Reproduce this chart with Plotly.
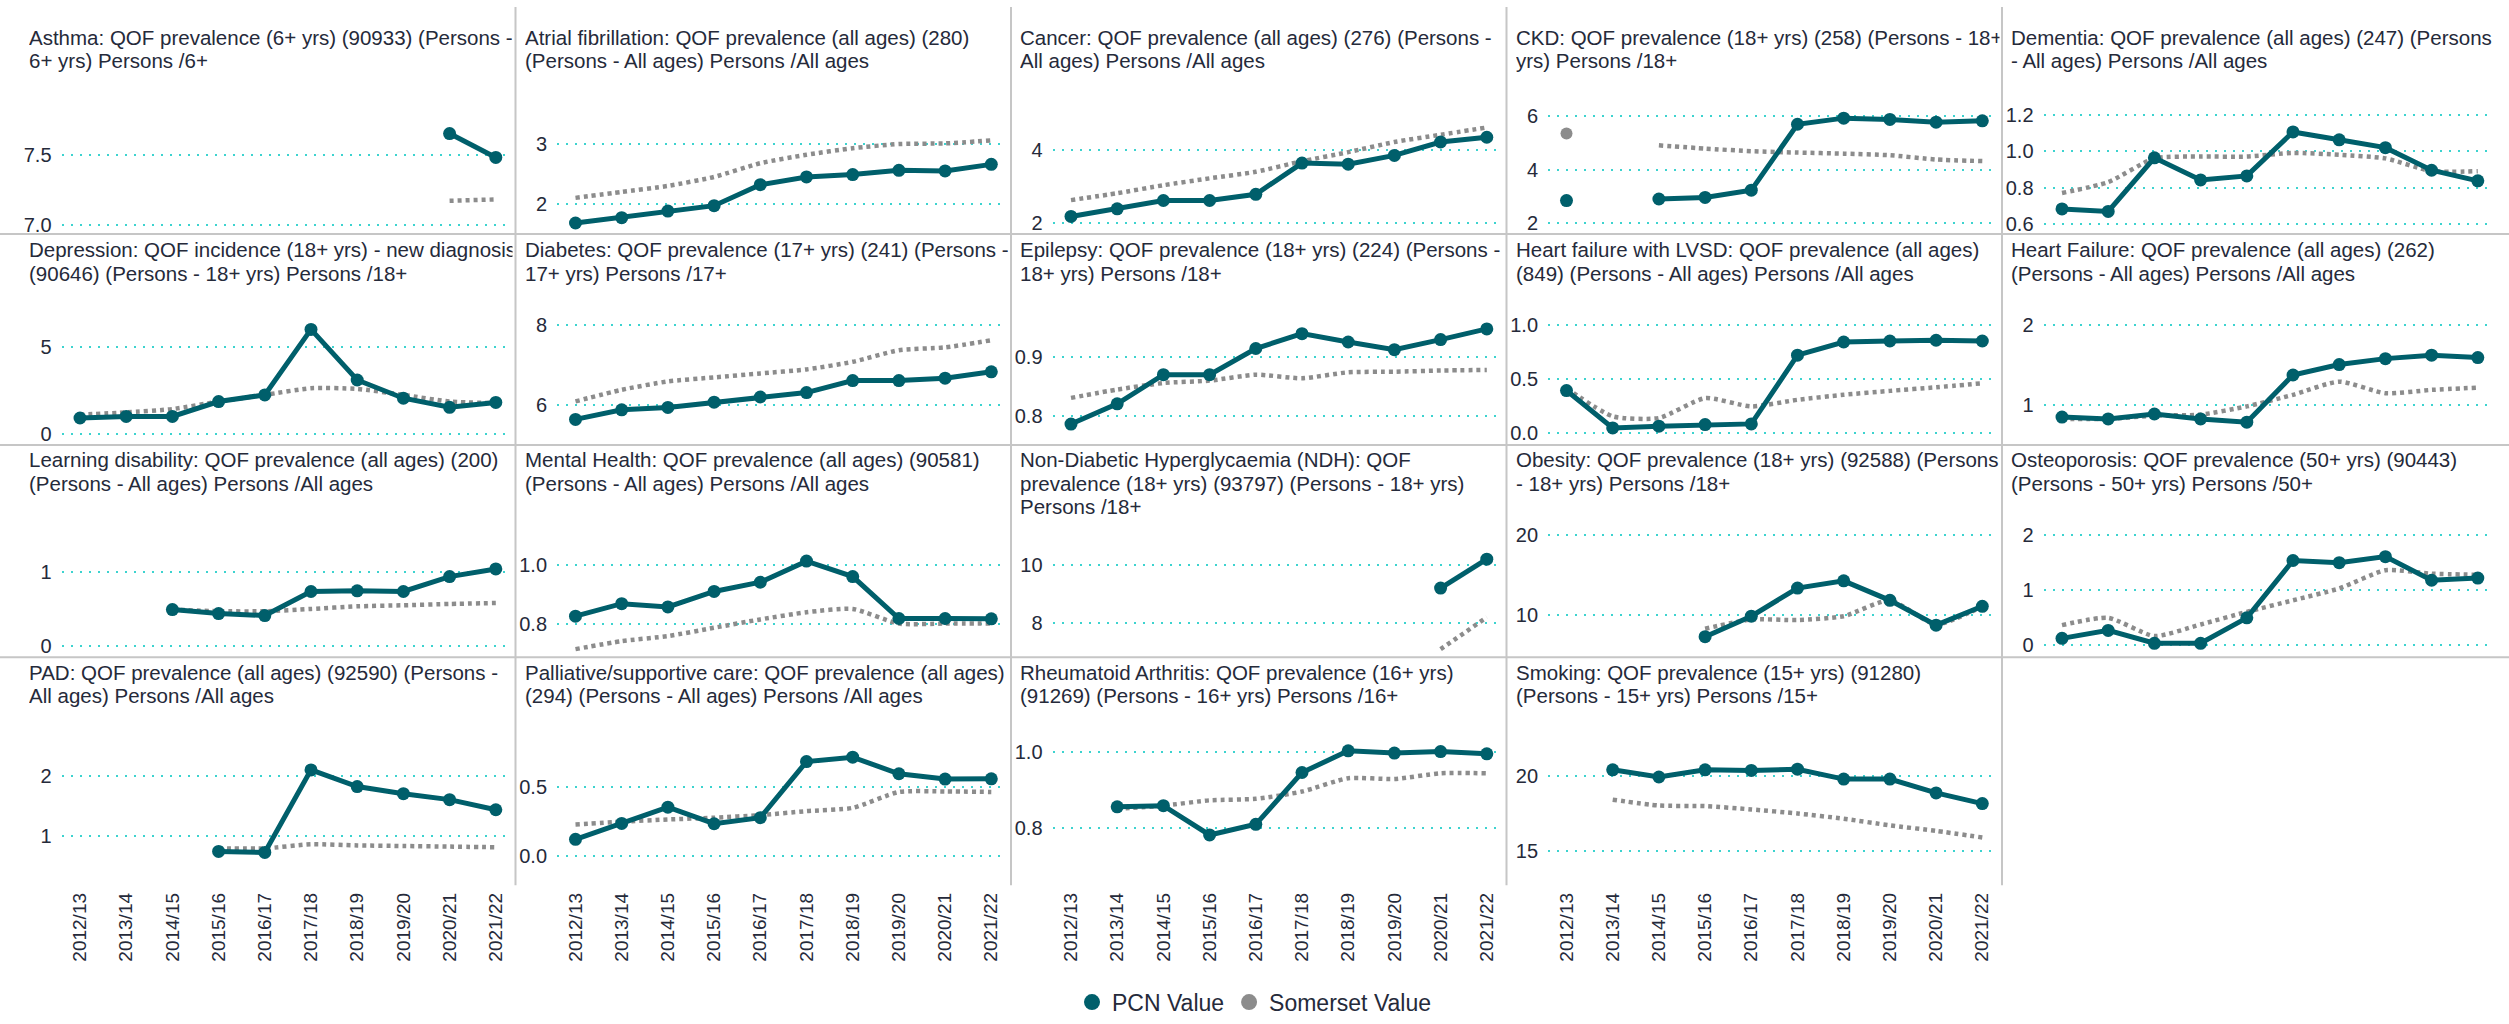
import plotly.graph_objects as go

# ---- data -------------------------------------------------------------
years = ["2012/13", "2013/14", "2014/15", "2015/16", "2016/17",
         "2017/18", "2018/19", "2019/20", "2020/21", "2021/22"]
N = None

asthma_pcn = [N, N, N, N, N, N, N, N, 7.65, 7.48]
asthma_som = [N, N, N, N, N, N, N, N, 7.17, 7.18]

af_pcn = [1.68, 1.77, 1.88, 1.97, 2.32, 2.45, 2.49, 2.56, 2.55, 2.66]
af_som = [2.10, 2.20, 2.30, 2.45, 2.68, 2.82, 2.93, 3.00, 3.01, 3.06]

cancer_pcn = [2.18, 2.39, 2.62, 2.62, 2.79, 3.65, 3.62, 3.86, 4.23, 4.36]
cancer_som = [2.63, 2.82, 3.04, 3.23, 3.41, 3.70, 3.95, 4.23, 4.43, 4.63]

ckd_pcn = [2.84, N, 2.90, 2.96, 3.23, 5.70, 5.93, 5.88, 5.78, 5.83]
ckd_som = [5.35, N, 4.91, 4.79, 4.69, 4.64, 4.60, 4.54, 4.38, 4.32]

dementia_pcn = [0.683, 0.669, 0.963, 0.842, 0.864, 1.105, 1.062, 1.019, 0.895, 0.837]
dementia_som = [0.77, 0.83, 0.96, 0.97, 0.97, 0.99, 0.98, 0.96, 0.89, 0.89]

depression_pcn = [0.94, 1.03, 1.03, 1.88, 2.26, 6.00, 3.11, 2.07, 1.55, 1.83]
depression_som = [1.13, 1.26, 1.45, 1.88, 2.26, 2.64, 2.60, 2.26, 1.88, 1.79]

diabetes_pcn = [5.65, 5.89, 5.95, 6.08, 6.21, 6.32, 6.62, 6.62, 6.68, 6.84]
diabetes_som = [6.10, 6.39, 6.60, 6.70, 6.80, 6.90, 7.09, 7.38, 7.45, 7.63]

epilepsy_pcn = [0.787, 0.821, 0.870, 0.870, 0.914, 0.939, 0.925, 0.912, 0.929, 0.947]
epilepsy_som = [0.831, 0.845, 0.856, 0.860, 0.870, 0.864, 0.874, 0.875, 0.877, 0.878]

hflvsd_pcn = [0.395, 0.051, 0.067, 0.082, 0.088, 0.721, 0.842, 0.851, 0.858, 0.851]
hflvsd_som = [0.416, 0.158, 0.142, 0.325, 0.249, 0.310, 0.356, 0.392, 0.425, 0.462]

hf_pcn = [0.846, 0.822, 0.884, 0.822, 0.781, 1.372, 1.503, 1.577, 1.620, 1.590]
hf_som = [0.822, 0.822, 0.864, 0.876, 0.979, 1.124, 1.289, 1.144, 1.186, 1.214]

ld_pcn = [N, N, 0.489, 0.436, 0.409, 0.733, 0.742, 0.733, 0.933, 1.036]
ld_som = [N, N, 0.489, 0.467, 0.467, 0.498, 0.533, 0.547, 0.565, 0.578]

mh_pcn = [0.828, 0.870, 0.859, 0.911, 0.942, 1.013, 0.961, 0.820, 0.820, 0.819]
mh_som = [0.717, 0.744, 0.761, 0.789, 0.817, 0.841, 0.852, 0.803, 0.803, 0.803]

ndh_pcn = [N, N, N, N, N, N, N, N, 9.21, 10.20]
ndh_som = [N, N, N, N, N, N, N, N, 7.12, 8.21]

obesity_pcn = [N, N, N, 7.32, 9.88, 13.40, 14.30, 11.86, 8.76, 11.12]
obesity_som = [N, N, N, 8.31, 9.47, 9.40, 9.88, 11.86, 8.85, 11.12]

osteo_pcn = [0.121, 0.266, 0.031, 0.031, 0.495, 1.54, 1.50, 1.61, 1.18, 1.22]
osteo_som = [0.362, 0.495, 0.163, 0.374, 0.604, 0.814, 1.03, 1.36, 1.30, 1.28]

pad_pcn = [N, N, N, 0.739, 0.722, 2.11, 1.83, 1.71, 1.61, 1.44]
pad_som = [N, N, N, 0.79, 0.79, 0.86, 0.84, 0.83, 0.82, 0.81]

pall_pcn = [0.120, 0.236, 0.355, 0.234, 0.278, 0.688, 0.720, 0.599, 0.560, 0.562]
pall_som = [0.229, 0.249, 0.265, 0.278, 0.297, 0.326, 0.350, 0.466, 0.470, 0.466]

ra_pcn = [N, 0.855, 0.858, 0.781, 0.809, 0.945, 1.002, 0.996, 1.000, 0.994]
ra_som = [N, 0.850, 0.858, 0.872, 0.876, 0.895, 0.930, 0.928, 0.943, 0.943]

smoking_pcn = [N, 20.44, 19.96, 20.44, 20.40, 20.48, 19.82, 19.82, 18.90, 18.19]
smoking_som = [N, 18.45, 18.06, 18.02, 17.80, 17.53, 17.18, 16.74, 16.37, 15.93]

titles = [
    ["Asthma: QOF prevalence (6+ yrs) (90933) (Persons -", "6+ yrs) Persons /6+"],
    ["Atrial fibrillation: QOF prevalence (all ages) (280)", "(Persons - All ages) Persons /All ages"],
    ["Cancer: QOF prevalence (all ages) (276) (Persons -", "All ages) Persons /All ages"],
    ["CKD: QOF prevalence (18+ yrs) (258) (Persons - 18+", "yrs) Persons /18+"],
    ["Dementia: QOF prevalence (all ages) (247) (Persons", "- All ages) Persons /All ages"],
    ["Depression: QOF incidence (18+ yrs) - new diagnosis", "(90646) (Persons - 18+ yrs) Persons /18+"],
    ["Diabetes: QOF prevalence (17+ yrs) (241) (Persons -", "17+ yrs) Persons /17+"],
    ["Epilepsy: QOF prevalence (18+ yrs) (224) (Persons -", "18+ yrs) Persons /18+"],
    ["Heart failure with LVSD: QOF prevalence (all ages)", "(849) (Persons - All ages) Persons /All ages"],
    ["Heart Failure: QOF prevalence (all ages) (262)", "(Persons - All ages) Persons /All ages"],
    ["Learning disability: QOF prevalence (all ages) (200)", "(Persons - All ages) Persons /All ages"],
    ["Mental Health: QOF prevalence (all ages) (90581)", "(Persons - All ages) Persons /All ages"],
    ["Non-Diabetic Hyperglycaemia (NDH): QOF", "prevalence (18+ yrs) (93797) (Persons - 18+ yrs)", "Persons /18+"],
    ["Obesity: QOF prevalence (18+ yrs) (92588) (Persons", "- 18+ yrs) Persons /18+"],
    ["Osteoporosis: QOF prevalence (50+ yrs) (90443)", "(Persons - 50+ yrs) Persons /50+"],
    ["PAD: QOF prevalence (all ages) (92590) (Persons -", "All ages) Persons /All ages"],
    ["Palliative/supportive care: QOF prevalence (all ages)", "(294) (Persons - All ages) Persons /All ages"],
    ["Rheumatoid Arthritis: QOF prevalence (16+ yrs)", "(91269) (Persons - 16+ yrs) Persons /16+"],
    ["Smoking: QOF prevalence (15+ yrs) (91280)", "(Persons - 15+ yrs) Persons /15+"],
]

pcn_series = [asthma_pcn, af_pcn, cancer_pcn, ckd_pcn, dementia_pcn,
              depression_pcn, diabetes_pcn, epilepsy_pcn, hflvsd_pcn, hf_pcn,
              ld_pcn, mh_pcn, ndh_pcn, obesity_pcn, osteo_pcn,
              pad_pcn, pall_pcn, ra_pcn, smoking_pcn]
som_series = [asthma_som, af_som, cancer_som, ckd_som, dementia_som,
              depression_som, diabetes_som, epilepsy_som, hflvsd_som, hf_som,
              ld_som, mh_som, ndh_som, obesity_som, osteo_som,
              pad_som, pall_som, ra_som, smoking_som]

y_ticks = [[7.0, 7.5], [2, 3], [2, 4], [2, 4, 6], [0.6, 0.8, 1.0, 1.2],
           [0, 5], [6, 8], [0.8, 0.9], [0.0, 0.5, 1.0], [1, 2],
           [0, 1], [0.8, 1.0], [8, 10], [10, 20], [0, 1, 2],
           [1, 2], [0.0, 0.5], [0.8, 1.0], [15, 20]]

# ---- layout settings ----------------------------------------------------
y_ranges = [(6.948, 8.0375), (1.531, 4.081), (1.754, 5.956), (1.666, 7.385), (0.5565, 1.394),
            (-0.493, 8.398), (5.058, 8.949), (0.755, 1.0167), (-0.0885, 1.344), (0.520, 2.468),
            (-0.111, 1.983), (0.700, 1.2233), (6.949, 12.271), (5.130, 24.585), (-0.168, 2.668),
            (0.222, 3.122), (-0.193, 1.067), (0.657, 1.110), (12.952, 24.445)]

W, H = 2509, 1024
FIRST_CAT = 80.0      # pixel x of first category in column 0
COL_STEP = 495.5      # pixel distance between columns
CAT_STEP = 46.2       # pixel distance between categories
X_RANGE = (-0.4, 9.35)
PLOT_ROWS = [(80, 234), (290, 447), (503, 660), (716, 890)]   # (top, bottom) px
TITLE_Y = [38, 252, 464, 678]
LINE_H = 23.5
SEP_X0 = 20.0

PCN_COLOR = "#005F6B"
SOM_COLOR = "#8C8C8C"
GRID_COLOR = "#3CD3CF"
TEXT_COLOR = "#252A3A"
FONT = "Liberation Sans, Arial, sans-serif"

fig = go.Figure()
cats = list(range(len(years)))


def isolated(vals):
    out = []
    for i, v in enumerate(vals):
        prev_none = i == 0 or vals[i - 1] is None
        next_none = i == len(vals) - 1 or vals[i + 1] is None
        out.append(v if (v is not None and prev_none and next_none) else None)
    return out


for k in range(20):
    r, c = divmod(k, 5)
    sfx = "" if k == 0 else str(k + 1)
    left = FIRST_CAT + COL_STEP * c + X_RANGE[0] * CAT_STEP
    right = FIRST_CAT + COL_STEP * c + X_RANGE[1] * CAT_STEP
    top, bottom = PLOT_ROWS[r]
    bottom_row = r == 3
    fig.layout["xaxis" + sfx] = dict(
        domain=[left / W, right / W], range=list(X_RANGE), anchor="y" + sfx,
        tickmode="array", tickvals=cats, ticktext=years, tickangle=-90,
        showticklabels=bottom_row, showgrid=False, zeroline=False, showline=False,
        tickfont=dict(family=FONT, size=19, color=TEXT_COLOR), ticks="",
        ticklabelstandoff=6, fixedrange=True,
    )
    yax = dict(
        domain=[(H - bottom) / H, (H - top) / H], anchor="x" + sfx,
        zeroline=False, showline=False, ticks="", fixedrange=True,
        tickfont=dict(family=FONT, size=20, color=TEXT_COLOR),
        ticklabelstandoff=9,
    )
    if k < 19:
        ticks = y_ticks[k]
        fmt = ".1f" if any(t != int(t) for t in ticks) else "d"
        yax.update(range=list(y_ranges[k]), tickmode="array", tickvals=ticks,
                   tickformat=fmt, showgrid=True, gridcolor=GRID_COLOR,
                   gridwidth=2, griddash="2px,7px")
    else:
        yax.update(range=[0, 1], showgrid=False, showticklabels=False)
    fig.layout["yaxis" + sfx] = yax

    if k < 19:
        som = som_series[k]
        pcn = pcn_series[k]
        fig.add_trace(go.Scatter(
            x=cats, y=som, mode="lines", xaxis="x" + sfx, yaxis="y" + sfx,
            line=dict(color=SOM_COLOR, width=4.5, dash="4px,4px", shape="spline",
                      smoothing=0.6),
            showlegend=False, hoverinfo="skip"))
        fig.add_trace(go.Scatter(
            x=cats, y=isolated(som), mode="markers", xaxis="x" + sfx, yaxis="y" + sfx,
            marker=dict(color=SOM_COLOR, size=12), showlegend=False, hoverinfo="skip"))
        fig.add_trace(go.Scatter(
            x=cats, y=pcn, mode="lines+markers", xaxis="x" + sfx, yaxis="y" + sfx,
            line=dict(color=PCN_COLOR, width=5),
            marker=dict(color=PCN_COLOR, size=13), showlegend=False, hoverinfo="skip"))

        # panel title, one annotation per line, clipped at the cell edge
        tx = SEP_X0 + COL_STEP * c + 8
        for j, line in enumerate(titles[k]):
            ty = TITLE_Y[r] + j * LINE_H
            fig.add_annotation(
                xref="paper", yref="paper", x=tx / W, y=(H - ty) / H,
                xanchor="left", yanchor="middle", align="left",
                text=line, showarrow=False, width=COL_STEP - 12,
                font=dict(family=FONT, size=20.5, color=TEXT_COLOR), borderpad=0)

# legend entries
fig.add_trace(go.Scatter(x=[None], y=[None], mode="markers", name="PCN Value",
                         marker=dict(color=PCN_COLOR, size=17)))
fig.add_trace(go.Scatter(x=[None], y=[None], mode="markers", name="Somerset Value",
                         marker=dict(color=SOM_COLOR, size=17)))

# cell separators
shapes = []
for c in range(1, 5):
    x = (SEP_X0 + COL_STEP * c) / W
    shapes.append(dict(type="line", xref="paper", yref="paper", x0=x, x1=x,
                       y0=(H - 893) / H, y1=(H - 7) / H,
                       line=dict(color="#C6C6C6", width=2)))
for yb in (236, 449, 663):
    shapes.append(dict(type="line", xref="paper", yref="paper", x0=0, x1=1,
                       y0=(H - yb) / H, y1=(H - yb) / H,
                       line=dict(color="#C6C6C6", width=2)))

fig.update_layout(
    width=W, height=H, autosize=False,
    margin=dict(l=0, r=0, t=0, b=0),
    paper_bgcolor="white", plot_bgcolor="white",
    shapes=shapes,
    showlegend=True,
    legend=dict(orientation="h", x=0.5, xanchor="center", y=(H - 1011) / H,
                yanchor="middle", font=dict(family=FONT, size=23, color=TEXT_COLOR),
                itemwidth=30, tracegroupgap=0, bgcolor="rgba(0,0,0,0)"),
    font=dict(family=FONT, color=TEXT_COLOR),
)

fig.write_html("out.html")
